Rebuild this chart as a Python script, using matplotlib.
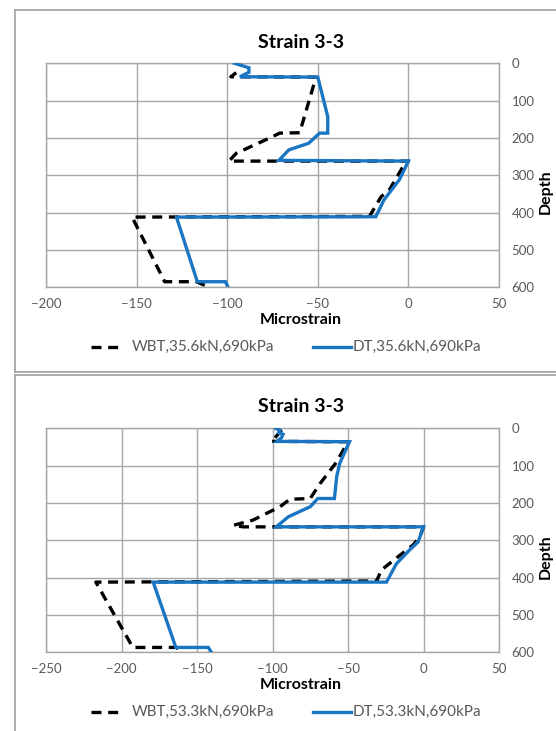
import matplotlib
matplotlib.use("Agg")
import matplotlib.pyplot as plt
from matplotlib.lines import Line2D

plt.rcParams["font.family"] = ["Lato", "DejaVu Sans"]

# --- data: top chart (35.6 kN) ---
wbt1_strain = [-95, -98, -51, -60, -71, -77, -95, -99, 0, -3, -10.5, -15, -21.5, -152.5, -134.5, -117, -110]
wbt1_depth = [25, 36, 37, 186, 187, 201, 241, 262, 262, 277, 339, 357, 410, 412, 585, 585, 600]
dt1_strain = [-96, -88, -88, -93, -50, -44.5, -44.5, -49, -55, -66, -71.5, 0, -5, -13.5, -18, -128, -116.5, -101, -99.5]
dt1_depth = [0, 12, 24, 36, 37, 143, 187, 187, 214, 232, 260, 262, 312, 366, 411, 412, 585, 585, 600]

# --- data: bottom chart (53.3 kN) ---
wbt2_strain = [-94, -100, -101, -50, -57.5, -68.5, -75, -88.5, -95, -113, -126, -119.5, 0, -2.5, -7, -20, -28, -31, -217, -192.5, -163.5, -160.5]
wbt2_depth = [5, 33, 35, 36, 90, 148, 188, 190, 210, 246, 260, 264, 264, 291, 313, 354, 380, 409, 412, 587, 587, 600]
dt2_strain = [-98, -95, -96, -93, -94, -97, -49, -55.5, -57.5, -59, -70, -75, -89.5, -97.5, 0, -3.5, -9.5, -18, -24.5, -179, -164, -142.5, -140.5]
dt2_depth = [0, 5, 12, 16, 25, 35, 36, 94, 130, 188, 188, 210, 237, 264, 264, 304, 327, 363, 412, 412, 587, 587, 600]

charts = [
    dict(wbt=(wbt1_strain, wbt1_depth), dt=(dt1_strain, dt1_depth),
         xlim=(-200, 50), labels=("WBT,35.6kN,690kPa", "DT,35.6kN,690kPa")),
    dict(wbt=(wbt2_strain, wbt2_depth), dt=(dt2_strain, dt2_depth),
         xlim=(-250, 50), labels=("WBT,53.3kN,690kPa", "DT,53.3kN,690kPa")),
]

W, H = 556, 731
fig = plt.figure(figsize=(W / 100, H / 100), dpi=100)

BLUE = "#1a75c2"
GRID = "#a6a6a6"
TXT = "#595959"


def fx(px):
    return px / W


def fy(py):
    return 1 - py / H


def frame_line(x0, y0, x1, y1):
    fig.add_artist(Line2D([fx(x0), fx(x1)], [fy(y0), fy(y1)], color="#a0a0a0", lw=1.2))


# outer chart frames (cut off at the right/bottom edge)
frame_line(14.5, 10, 556, 10)
frame_line(14.5, 10, 14.5, 372)
frame_line(14.5, 372, 556, 372)
frame_line(14.5, 375, 556, 375)
frame_line(14.5, 375, 14.5, 731)

offsets = [0, 365]
for chart, off in zip(charts, offsets):
    top, bottom = 63.3 + off, 287.3 + off
    left, right = 46, 499
    ax = fig.add_axes([fx(left), fy(bottom), fx(right) - fx(left), (bottom - top) / H])

    ax.plot(*chart["dt"], color=BLUE, lw=2.4, solid_joinstyle="miter", zorder=3)
    ax.plot(*chart["wbt"], color="black", lw=2.4, ls=(0, (3, 2)), zorder=2)

    ax.set_xlim(*chart["xlim"])
    ax.set_ylim(600, 0)
    ax.set_xticks(range(chart["xlim"][0], chart["xlim"][1] + 1, 50))
    ax.set_yticks(range(0, 601, 100))
    ax.yaxis.tick_right()
    ax.tick_params(length=0, labelsize=9.5, labelcolor=TXT)
    ax.tick_params(axis="y", pad=9)
    ax.tick_params(axis="x", pad=8)
    ax.grid(True, color=GRID, lw=1)
    ax.set_axisbelow(True)
    for s in ax.spines.values():
        s.set_color(GRID)
        s.set_linewidth(1)

    fig.text(fx(301), fy(42 + off), "Strain 3-3", ha="center", va="center",
             fontsize=14, fontweight="bold")
    fig.text(fx(301), fy(320 + off), "Microstrain", ha="center", va="center",
             fontsize=11.5, fontweight="bold")
    fig.text(fx(546), fy(192 + off), "Depth", ha="center", va="center",
             rotation=90, fontsize=11.5, fontweight="bold")

    # legend
    ly = 347 + off
    fig.add_artist(Line2D([fx(91), fx(124)], [fy(ly), fy(ly)], color="black", lw=2.4,
                          ls=(0, (3, 2))))
    fig.text(fx(132), fy(ly), chart["labels"][0], ha="left", va="center", fontsize=11,
             color=TXT)
    fig.add_artist(Line2D([fx(313), fx(351)], [fy(ly), fy(ly)], color=BLUE, lw=2.4))
    fig.text(fx(353), fy(ly), chart["labels"][1], ha="left", va="center", fontsize=11,
             color=TXT)

fig.savefig("out.png", dpi=100)
